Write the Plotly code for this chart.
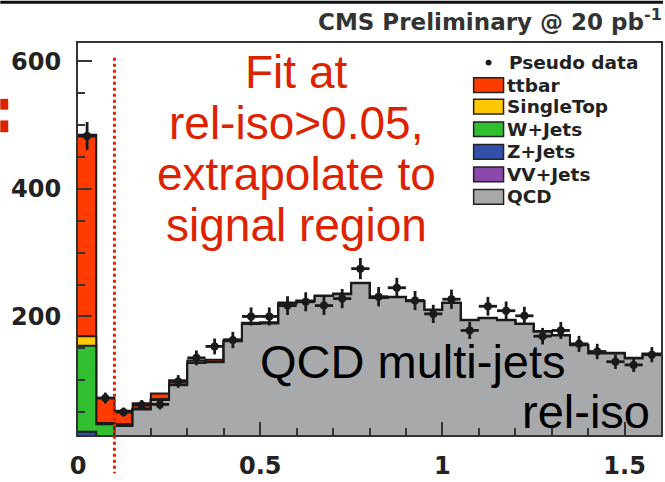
import numpy as np
import plotly.graph_objects as go

# ---------------- data ----------------
bin_width = 0.05
n_bins = 32
edges = [round(i * bin_width, 2) for i in range(n_bins + 1)]   # rel-iso bin edges 0 .. 1.6

qcd = [0, 2, 28, 54, 69, 92, 127, 128, 161, 188, 189, 220, 224, 232, 235, 252,
       229, 230, 224, 210, 221, 194, 197, 194, 188, 176, 170, 155, 142, 142, 134, 141]
vv_jets = [1, 0, 0, 0, 0, 0, 0, 0, 0, 0, 0, 0, 0, 0, 0, 0,
           0, 0, 0, 0, 0, 0, 0, 0, 0, 0, 0, 0, 0, 0, 0, 0]
z_jets = [18, 1, 0, 0, 0, 0, 0, 0, 0, 0, 0, 0, 0, 0, 0, 0,
          0, 0, 0, 0, 0, 0, 0, 0, 0, 0, 0, 0, 0, 0, 0, 0]
w_jets = [135, 28, 2, 1, 1, 1, 0, 0, 0, 0, 0, 0, 0, 0, 0, 0,
          0, 0, 0, 0, 0, 0, 0, 0, 0, 0, 0, 0, 0, 0, 0, 0]
single_top = [15, 2, 1, 0, 0, 0, 0, 0, 0, 0, 0, 0, 0, 0, 0, 0,
              0, 0, 0, 0, 0, 0, 0, 0, 0, 0, 0, 0, 0, 0, 0, 0]
ttbar = [316, 39, 21, 9, 9, 7, 4, 4, 3, 2, 2, 2, 1, 1, 1, 1,
         1, 1, 1, 1, 1, 1, 1, 1, 1, 1, 1, 1, 1, 1, 1, 1]
pseudo_data = [483, 72, 50, 61, 62, 98, 135, 153, 163, 200, 200, 217, 223, 217, 228, 275,
               231, 245, 225, 204, 227, 178, 216, 209, 201, 169, 178, 157, 145, 129, 124, 140]

legend_names = ["ttbar", "SingleTop", "W+Jets", "Z+Jets", "VV+Jets", "QCD"]
colors = {"ttbar": "#ff3b00", "SingleTop": "#ffc800", "W+Jets": "#2fbf2f",
          "Z+Jets": "#3350a8", "VV+Jets": "#8a48a8", "QCD": "#a8a9ab"}

x_ticks = [0, 0.5, 1, 1.5]
x_ticktext = ["0", "0.5", "1", "1.5"]
y_ticks = [200, 400, 600]
y_ticktext = ["200", "400", "600"]
cut_value = 0.1

# ---------------- figure ----------------
W, H = 665, 482
ML, MR, MT, MB = 78, 2, 43, 39
PW, PH = W - ML - MR, H - MT - MB


def px(xp):
    return (xp - ML) / PW


def py(yp):
    return (H - MB - yp) / PH


# stacking order from bottom: QCD, VV, Z, W, SingleTop, ttbar
stack_order = [("QCD", qcd), ("VV+Jets", vv_jets), ("Z+Jets", z_jets),
               ("W+Jets", w_jets), ("SingleTop", single_top), ("ttbar", ttbar)]
cum = np.cumsum(np.array([v for _, v in stack_order], dtype=float), axis=0)

fig = go.Figure()
for idx in range(len(stack_order) - 1, -1, -1):
    name = stack_order[idx][0]
    yv = list(cum[idx]) + [cum[idx][-1]]
    fig.add_trace(go.Scatter(
        x=edges, y=yv, mode="lines", line_shape="hv",
        line=dict(color="#1a1a1a", width=2),
        fill="tozeroy", fillcolor=colors[name], name=name, hoverinfo="skip"))

centers = [e + bin_width / 2 for e in edges[:-1]]
fig.add_trace(go.Scatter(
    x=centers, y=pseudo_data, mode="markers", name="Pseudo data",
    marker=dict(color="#1a1a1a", size=8),
    error_y=dict(type="data", array=np.sqrt(pseudo_data), color="#1a1a1a",
                 thickness=2.8, width=0),
    error_x=dict(type="constant", value=bin_width / 2, color="#1a1a1a",
                 thickness=2.8, width=0)))

FONT = "Liberation Sans, Arial, Helvetica, sans-serif"
BFONT = "DejaVu Sans, Liberation Sans, Arial, sans-serif"
tickfont = dict(family=BFONT, size=24, color="#222222", weight="bold")

fig.update_layout(
    width=W, height=H, margin=dict(l=ML, r=MR, t=MT, b=MB),
    paper_bgcolor="white", plot_bgcolor="white", showlegend=False,
    xaxis=dict(range=[0, 1.6], tickvals=x_ticks, ticktext=x_ticktext,
               ticks="inside", ticklen=13, tickwidth=1.5, tickcolor="#333",
               minor=dict(dtick=0.1, tick0=0, ticks="inside", ticklen=7,
                          tickwidth=1.5, tickcolor="#333"),
               showline=True, mirror=True, linecolor="#333", linewidth=2,
               showgrid=False, zeroline=False, tickfont=tickfont,
               ticklabelstandoff=8),
    yaxis=dict(range=[14, 629], tickvals=y_ticks, ticktext=y_ticktext,
               ticks="inside", ticklen=14, tickwidth=1.5, tickcolor="#333",
               minor=dict(dtick=50, tick0=0, ticks="inside", ticklen=7,
                          tickwidth=1.5, tickcolor="#333"),
               showline=True, mirror=True, linecolor="#333", linewidth=2,
               showgrid=False, zeroline=False, tickfont=tickfont,
               ticklabelstandoff=10),
)

shapes = []
annotations = []

# dotted cut line
shapes.append(dict(type="line", xref="x", yref="paper", x0=cut_value, x1=cut_value,
                   y0=py(58), y1=py(482), line=dict(color="#dd2200", width=3, dash="dot")))

# top black band of the slide
shapes.append(dict(type="rect", xref="paper", yref="paper", x0=px(0), x1=px(665),
                   y0=py(0), y1=py(3), line=dict(width=0), fillcolor="#111111"))

# red fragments on the left edge (cut-off slide text)
for (ya, yb) in [(100, 111), (122, 134)]:
    shapes.append(dict(type="rect", xref="paper", yref="paper", x0=px(0), x1=px(8),
                       y0=py(yb), y1=py(ya), line=dict(width=0), fillcolor="#dd2200"))

# legend
legfont = dict(family=BFONT, size=18.5, color="#222", weight="bold")
leg_y = {"ttbar": 86, "SingleTop": 108, "W+Jets": 131, "Z+Jets": 154, "VV+Jets": 177, "QCD": 200}
shapes.append(dict(type="circle", xref="paper", yref="paper",
                   x0=px(487), x1=px(493), y0=py(66), y1=py(60),
                   fillcolor="#1a1a1a", line=dict(width=0)))
annotations.append(dict(text="Pseudo data", xref="paper", yref="paper", x=px(508), y=py(63),
                        xanchor="left", yanchor="middle", showarrow=False, font=legfont))
for name in legend_names:
    yc = leg_y[name]
    shapes.append(dict(type="rect", xref="paper", yref="paper",
                       x0=px(475), x1=px(505), y0=py(yc + 7.5), y1=py(yc - 7.5),
                       fillcolor=colors[name], line=dict(color="#222", width=1.5)))
    annotations.append(dict(text=name, xref="paper", yref="paper", x=px(506), y=py(yc),
                            xanchor="left", yanchor="middle", showarrow=False, font=legfont))

# title
annotations.append(dict(text="CMS Preliminary @ 20 pb<sup>-1</sup>", xref="paper", yref="paper",
                        x=px(317), y=py(20), xanchor="left", yanchor="middle", showarrow=False,
                        font=dict(family=BFONT, size=23, color="#333", weight="bold")))

# red explanatory text
red_lines = ["Fit at", "rel-iso>0.05,", "extrapolate to", "signal region"]
red_y = [73, 125, 177, 229]
for t, yc in zip(red_lines, red_y):
    annotations.append(dict(text=t, xref="paper", yref="paper", x=px(297), y=py(yc),
                            xanchor="center", yanchor="middle", showarrow=False,
                            font=dict(family=FONT, size=46, color="#dd2200")))

# black labels
annotations.append(dict(text="QCD multi-jets", xref="paper", yref="paper", x=px(259), y=py(368),
                        xanchor="left", yanchor="middle", showarrow=False,
                        font=dict(family=FONT, size=47, color="black")))
annotations.append(dict(text="rel-iso", xref="paper", yref="paper", x=px(654), y=py(419),
                        xanchor="right", yanchor="middle", showarrow=False,
                        font=dict(family=FONT, size=47, color="black")))

fig.update_layout(shapes=shapes, annotations=annotations)
fig.write_html("out.html", config={"displayModeBar": False},
               post_script="document.body.style.margin='0';document.body.style.overflow='hidden';")
